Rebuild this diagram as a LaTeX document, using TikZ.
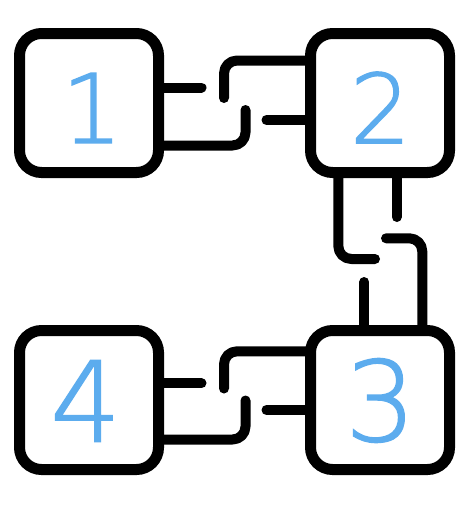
\documentclass[tikz,border=0pt]{standalone}
\usepackage{fontspec}
\usetikzlibrary{backgrounds}
\newfontfamily\digitfont[FakeBold=1.5]{DejaVu Sans ExtraLight}
\definecolor{digitblue}{RGB}{92,172,238}
\begin{document}
\begin{tikzpicture}[x=1pt,y=-1pt,
  box/.style={draw=black, fill=white, line width=11pt, rounded corners=22pt,
    minimum width=139pt, minimum height=139pt, inner sep=0pt, outer sep=0pt},
  digit/.style={text=digitblue, inner sep=0pt, outer sep=0pt},
  conn/.style={draw=black, line width=10pt, line cap=round, line join=round, rounded corners=13pt}]
\useasboundingbox (0,0) rectangle (474,506);
% boxes
\node[box] (b1) at (89,103) {};
\node[box] (b2) at (380,103) {};
\node[box] (b3) at (380,400) {};
\node[box] (b4) at (89,400) {};
% digits
\node[digit, font=\digitfont\fontsize{96}{96}\selectfont] (n1) at (92,108) {1};
\node[digit, font=\digitfont\fontsize{96}{96}\selectfont] (n2) at (380.5,107.5) {2};
\node[digit, font=\digitfont\fontsize{111}{111}\selectfont] (n3) at (380.5,400.5) {3};
\node[digit, font=\digitfont\fontsize{111}{111}\selectfont] (n4) at (85.5,401) {4};
% free ends of connectors
\coordinate (ta) at (201.5,87.5);
\coordinate (tb) at (224,60.5);
\coordinate (tbe) at (224,98);
\coordinate (tc) at (266.5,120);
\coordinate (td) at (245.5,145.5);
\coordinate (tde) at (245.5,110);
\coordinate (ba) at (201.5,383.3);
\coordinate (bb) at (224,351.3);
\coordinate (bbe) at (224,388.5);
\coordinate (bc) at (266.5,410);
\coordinate (bd) at (245.5,439.5);
\coordinate (bde) at (245.5,400.5);
\coordinate (vl) at (338.3,259);
\coordinate (vle) at (375,259);
\coordinate (vr) at (396.7,217);
\coordinate (vs) at (386,238.3);
\coordinate (vsc) at (422.3,238.3);
\coordinate (vt) at (364.3,282);
% connectors
\begin{scope}[on background layer]
  % 1 -- 2
  \draw[conn] (ta -| b1.east) -- (ta);
  \draw[conn] (tb -| b2.west) -- (tb) -- (tbe);
  \draw[conn] (tc -| b2.west) -- (tc);
  \draw[conn] (td -| b1.east) -- (td) -- (tde);
  % 4 -- 3
  \draw[conn] (ba -| b4.east) -- (ba);
  \draw[conn] (bb -| b3.west) -- (bb) -- (bbe);
  \draw[conn] (bc -| b3.west) -- (bc);
  \draw[conn] (bd -| b4.east) -- (bd) -- (bde);
  % 2 -- 3
  \draw[conn] (vl |- b2.south) -- (vl) -- (vle);
  \draw[conn] (vr |- b2.south) -- (vr);
  \draw[conn] (vs) -- (vsc) -- (vsc |- b3.north);
  \draw[conn] (vt |- b3.north) -- (vt);
\end{scope}
\end{tikzpicture}
\end{document}
